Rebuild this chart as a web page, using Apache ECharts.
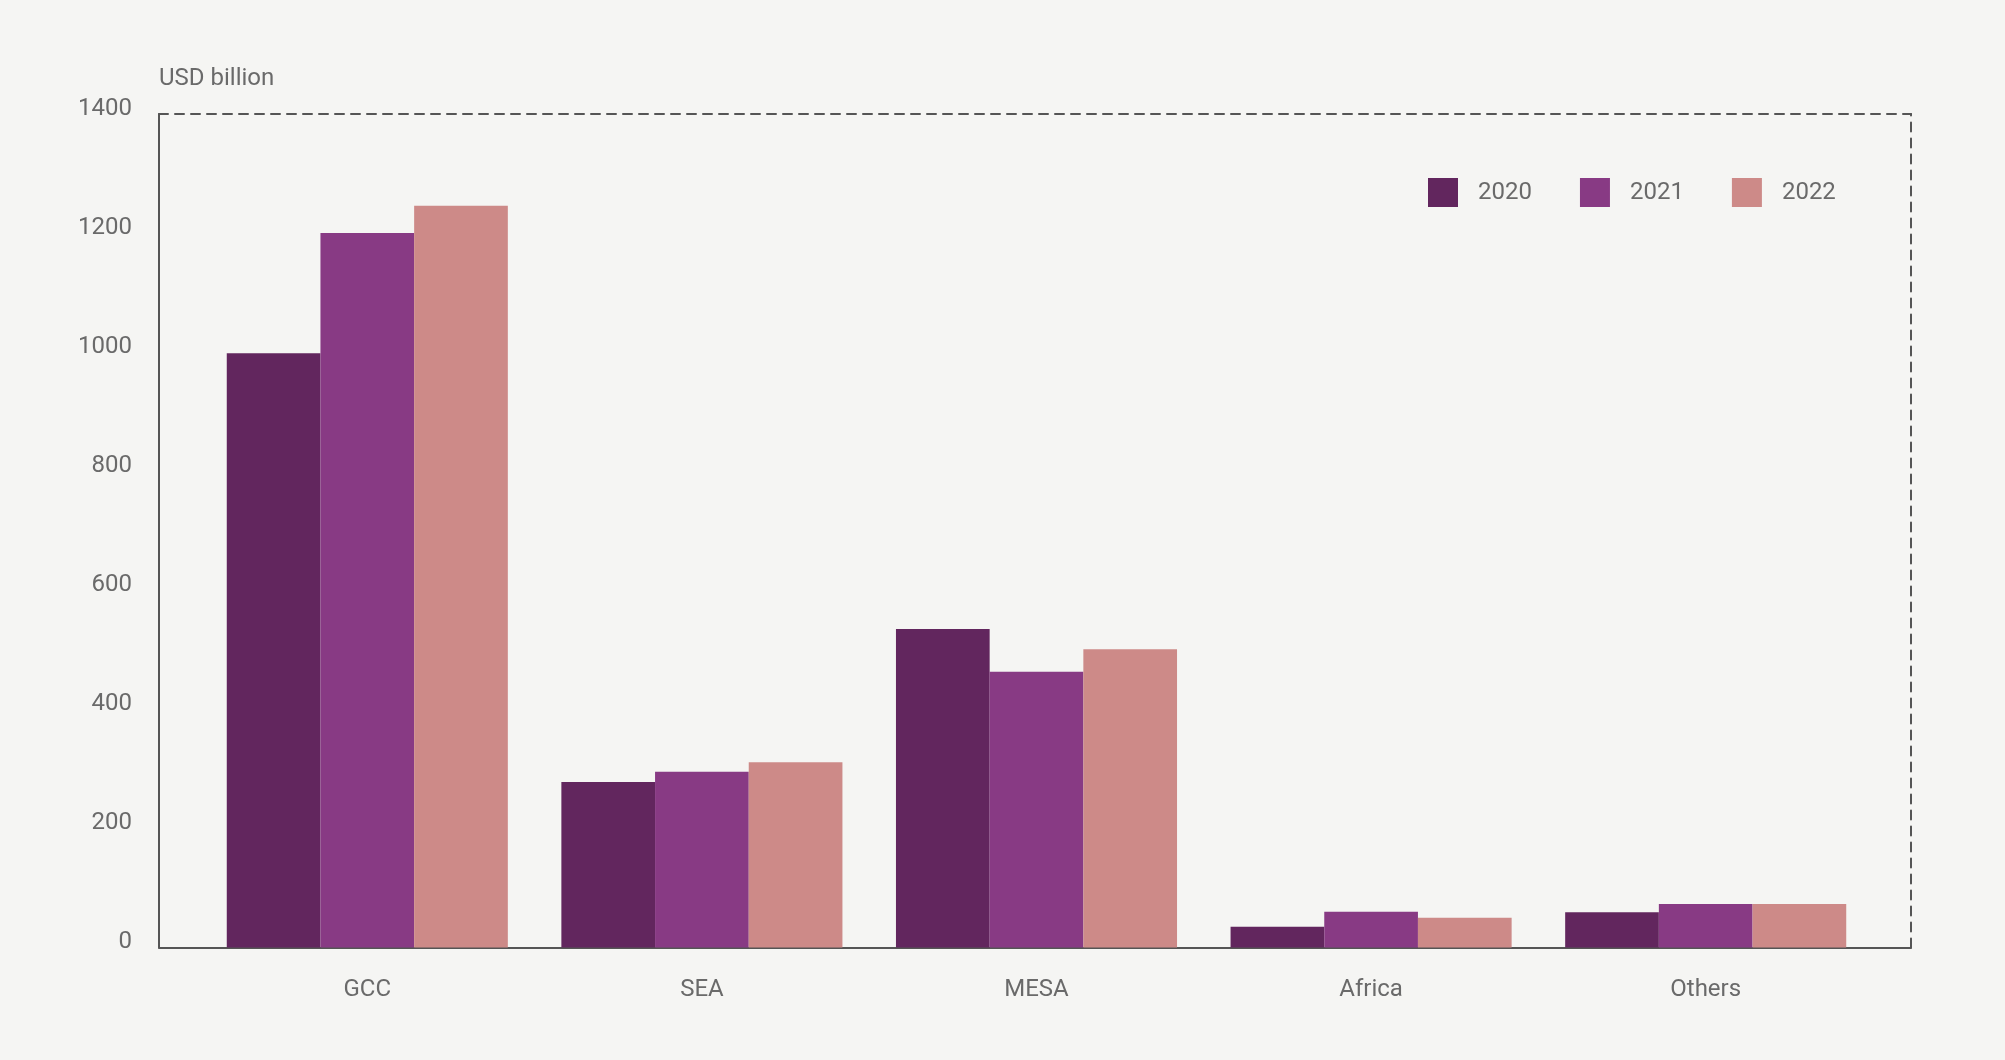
<!DOCTYPE html>
<html>
<head>
<meta charset="utf-8">
<script src="https://cdn.jsdelivr.net/npm/echarts@6/dist/echarts.min.js"></script>
<style>
html,body{margin:0;padding:0;background:#f5f5f3;}
#chart{width:2005px;height:1060px;}
</style>
</head>
<body>
<div id="chart"></div>
<script>
const categories = ['GCC', 'SEA', 'MESA', 'Africa', 'Others'];
const seriesNames = ['2020', '2021', '2022'];
const values2020 = [998, 278, 535, 35, 59];
const values2021 = [1200, 295, 463, 60, 73];
const values2022 = [1246, 311, 501, 50, 73];
const colors = ['#62265e', '#883a84', '#cd8a88'];
const yMin = 0, yMax = 1400, yInterval = 200;

const chart = echarts.init(document.getElementById('chart'), null, {renderer: 'canvas'});
const font = 'Roboto, "Noto Sans", sans-serif';
const textColor = '#6a6a6a';
const lineColor = '#555555';

const option = {
  backgroundColor: '#f5f5f3',
  animation: false,
  textStyle: {fontFamily: font},
  legend: {
    left: 1423, top: 173,
    itemWidth: 30, itemHeight: 29, itemGap: 48,
    icon: 'rect',
    data: seriesNames,
    textStyle: {fontSize: 24, color: textColor, fontFamily: font, padding: [0, 0, 0, 15]}
  },
  grid: [
    {left: 200, right: 132, top: 114, bottom: 112.5},
    {left: 159, right: 94, top: 114, bottom: 112.5}
  ],
  xAxis: [
    {
      type: 'category', gridIndex: 0, data: categories,
      axisLine: {show: false}, axisTick: {show: false},
      axisLabel: {fontSize: 24, color: textColor, margin: 30, fontFamily: font},
      splitLine: {show: false}
    },
    {
      type: 'value', gridIndex: 1, position: 'bottom', min: 0, max: 1,
      axisLine: {show: true, onZero: false, lineStyle: {color: lineColor, width: 2}},
      axisTick: {show: false}, axisLabel: {show: false}, splitLine: {show: false}
    },
    {
      type: 'value', gridIndex: 1, position: 'top', min: 0, max: 1,
      axisLine: {show: true, onZero: false, lineStyle: {color: lineColor, width: 2, type: [9, 7]}},
      axisTick: {show: false}, axisLabel: {show: false}, splitLine: {show: false}
    }
  ],
  yAxis: [
    {
      type: 'value', gridIndex: 0, min: yMin, max: yMax, interval: yInterval,
      show: false, splitLine: {show: false}
    },
    {
      type: 'value', gridIndex: 1, min: yMin, max: yMax, interval: yInterval, position: 'left',
      name: 'USD billion', nameLocation: 'end', nameGap: 35,
      nameTextStyle: {fontSize: 24, color: textColor, align: 'left', verticalAlign: 'middle', fontFamily: font},
      axisLine: {show: true, onZero: false, lineStyle: {color: lineColor, width: 2}},
      axisTick: {show: false},
      axisLabel: {
        fontSize: 24, color: textColor, margin: 27, fontFamily: font,
        verticalAlign: 'bottom', lineHeight: 11,
        formatter: function (v) { return String(v); }
      },
      splitLine: {show: false}
    },
    {
      type: 'value', gridIndex: 1, min: yMin, max: yMax, interval: yInterval, position: 'right',
      axisLine: {show: true, onZero: false, lineStyle: {color: lineColor, width: 2, type: [9, 7]}},
      axisTick: {show: false}, axisLabel: {show: false}, splitLine: {show: false}
    }
  ],
  series: [
    {name: seriesNames[0], type: 'bar', xAxisIndex: 0, yAxisIndex: 0, data: values2020,
     itemStyle: {color: colors[0]}, barGap: '0%', barCategoryGap: '16%', z: 3},
    {name: seriesNames[1], type: 'bar', xAxisIndex: 0, yAxisIndex: 0, data: values2021,
     itemStyle: {color: colors[1]}, barGap: '0%', barCategoryGap: '16%', z: 3},
    {name: seriesNames[2], type: 'bar', xAxisIndex: 0, yAxisIndex: 0, data: values2022,
     itemStyle: {color: colors[2]}, barGap: '0%', barCategoryGap: '16%', z: 3}
  ]
};
chart.setOption(option);
</script>
</body>
</html>
